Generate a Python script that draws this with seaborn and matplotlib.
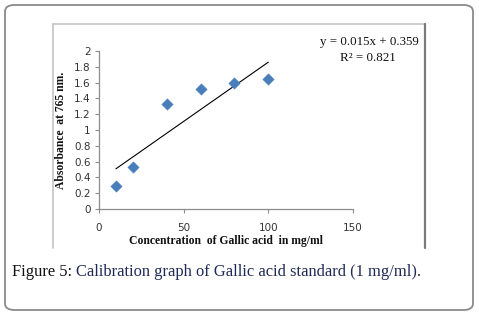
import matplotlib
matplotlib.use("Agg")
import matplotlib.pyplot as plt
from matplotlib.patches import FancyBboxPatch
from matplotlib.lines import Line2D
import seaborn as sns
import numpy as np
import pandas as pd

# Data
concentration = [10, 20, 40, 60, 80, 100]
absorbance = [0.29, 0.53, 1.33, 1.52, 1.59, 1.65]
slope = 0.015
intercept = 0.359
r_squared = 0.821
x_ticks = [0, 50, 100, 150]
y_ticks = [0, 0.2, 0.4, 0.6, 0.8, 1, 1.2, 1.4, 1.6, 1.8, 2]
y_tick_labels = ["0", "0.2", "0.4", "0.6", "0.8", "1", "1.2", "1.4", "1.6", "1.8", "2"]

df = pd.DataFrame({"conc": concentration, "abs": absorbance})

sns.set_theme(style="white")
plt.rcParams['font.family'] = ['DejaVu Sans']

W, H = 479, 321
fig = plt.figure(figsize=(W / 100, H / 100), dpi=100)

def fx(px):
    return px / W

def fy(py):
    return 1 - py / H

# outer rounded box
box = FancyBboxPatch((fx(5), fy(310)), fx(468), 305 / H,
                     boxstyle="round,pad=0,rounding_size=0.02",
                     transform=fig.transFigure, fill=False,
                     edgecolor="#8a8a8a", linewidth=1.3)
fig.add_artist(box)

# inner chart frame (left, top, right)
fig.add_artist(Line2D([fx(52.5), fx(52.5)], [fy(248), fy(24)], transform=fig.transFigure,
                      color="#c4c4c4", linewidth=1.2))
fig.add_artist(Line2D([fx(52.5), fx(425)], [fy(24), fy(24)], transform=fig.transFigure,
                      color="#c4c4c4", linewidth=1.2))
fig.add_artist(Line2D([fx(425), fx(425)], [fy(24), fy(248)], transform=fig.transFigure,
                      color="#7a7a7a", linewidth=1.6))

ax = fig.add_axes([fx(99), fy(209), fx(353) - fx(99), (209 - 51) / H])

sns.scatterplot(data=df, x="conc", y="abs", ax=ax, marker="D", s=34,
                color="#4a7ebb", edgecolor="#4a7ebb", linewidth=0.3, zorder=3)

xl = np.array([min(concentration), max(concentration)])
ax.plot(xl, slope * xl + intercept, color="black", linewidth=0.8, zorder=2)

ax.set_xlim(0, 150)
ax.set_ylim(0, 2)
ax.set_xticks(x_ticks)
ax.set_yticks(y_ticks)
ax.set_yticklabels(y_tick_labels)

for s in ["top", "right"]:
    ax.spines[s].set_visible(False)
for s in ["left", "bottom"]:
    ax.spines[s].set_color("#8c8c8c")
    ax.spines[s].set_linewidth(0.9)

ax.tick_params(axis="both", which="both", direction="out", length=3, width=0.8,
               color="#8c8c8c", labelsize=7.5, labelcolor="#333333")
ax.tick_params(axis="y", pad=3, left=True)
ax.tick_params(axis="x", pad=7, bottom=True)
ax.set_facecolor("white")
ax.grid(False)

serif = ['Liberation Serif', 'DejaVu Serif']
ax.set_xlabel("Concentration  of Gallic acid  in mg/ml", fontfamily=serif,
              fontweight="bold", fontsize=8.4, labelpad=1.5, color="#111111")
ax.set_ylabel("Absorbance  at 765 nm.", fontfamily=serif,
              fontweight="bold", fontsize=8.4, labelpad=5, color="#111111")

fig.text(fx(419), fy(42), "y = 0.015x + 0.359", ha="right", va="center",
         fontfamily=serif, fontsize=9.4, color="#111111")
fig.text(fx(368), fy(58), "R² = 0.821", ha="center", va="center",
         fontfamily=serif, fontsize=9.4, color="#111111")

cap1 = fig.text(fx(12), fy(272), "Figure 5: ", ha="left", va="center",
                fontfamily=serif, fontsize=11.9, color="#111111")
fig.canvas.draw()
bb = cap1.get_window_extent()
fig.text(bb.x1 / W, fy(272), "Calibration graph of Gallic acid standard (1 mg/ml).",
         ha="left", va="center", fontfamily=serif, fontsize=11.9, color="#1e2a55")

fig.savefig("out.png", dpi=100, facecolor="white")
